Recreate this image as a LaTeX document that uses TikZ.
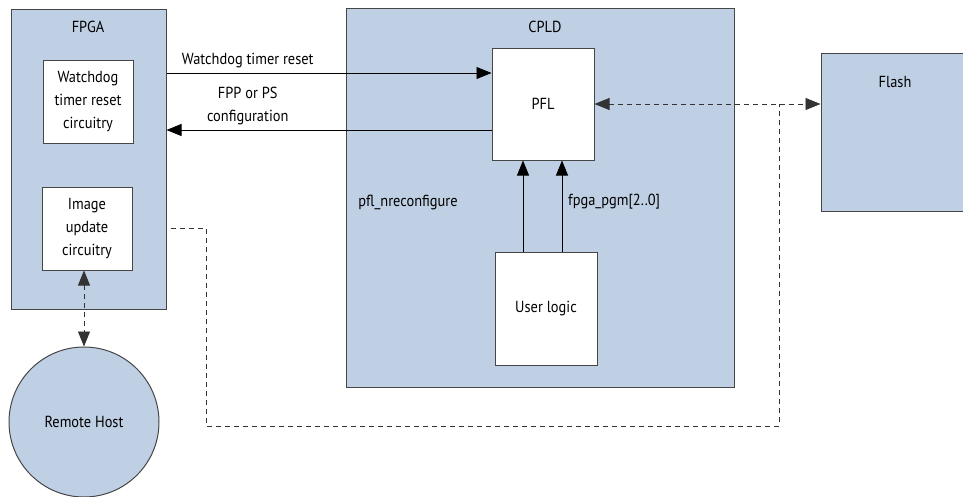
\documentclass[tikz,border=0pt]{standalone}
\usepackage{fontspec}
\setmainfont{PT Sans}[FakeStretch=0.9]
\usetikzlibrary{arrows.meta}
\definecolor{blockblue}{RGB}{191,207,228}
\definecolor{edgegray}{RGB}{70,70,70}

\begin{document}
\begin{tikzpicture}[x=1pt, y=-1pt, font=\fontsize{16}{23}\selectfont,
	bluebox/.style={shape=rectangle, draw=edgegray, fill=blockblue, line width=1pt, inner sep=0},
	whitebox/.style={shape=rectangle, draw=edgegray, fill=white, line width=1pt, inner sep=0, align=center},
	sig/.style={line width=0.9pt, -{Triangle[length=15pt, width=12pt]}},
	dsig/.style={line width=0.9pt, draw=black!80, dash pattern=on 5pt off 4pt}]
	\useasboundingbox (0, 0) rectangle (963, 496);
	% Blocks, labels and links:
	\node[bluebox, minimum width=155, minimum height=300] (FPGA) at (88.5, 159) {} node[anchor=center] (FPGAlbl) at (88, 27) {FPGA};
	\node[whitebox, minimum width=90, minimum height=83] (Watch) at (88, 101.5) {Watchdog\\timer reset\\circuitry};
	\node[whitebox, minimum width=90, minimum height=83] (Image) at (87, 228.5) {Image\\update\\circuitry};
	\node[bluebox, minimum width=388, minimum height=379] (CPLD) at (540, 197.5) {} node[anchor=center] (CPLDlbl) at (545, 27) {CPLD};
	\node[whitebox, minimum width=102, minimum height=112] (PFL) at (543, 104) {PFL};
	\node[whitebox, minimum width=102, minimum height=113] (User) at (546, 308.5) {User logic};
	\node[bluebox, minimum width=149, minimum height=158] (Flash) at (895.5, 132) {} node[anchor=center] (Flashlbl) at (895, 82) {Flash};
	\node[bluebox, shape=circle, minimum size=150] (Host) at (84, 422) {Remote Host};
	\draw[sig] (FPGA.east |- 0, 73) -- (PFL.west |- 0, 73) node[pos=0.25, anchor=south, yshift=1pt] (WDlbl) {Watchdog timer reset};
	\draw[sig] (PFL.west |- 0, 130) -- (FPGA.east |- 0, 130) node[pos=0.75, anchor=south, align=center, yshift=1pt] (CFGlbl) {FPP or PS\\configuration};
	\draw[sig] (User.north -| 523, 0) -- (PFL.south -| 523, 0);
	\draw[sig] (User.north -| 562, 0) -- (PFL.south -| 562, 0);
	\node[anchor=center] (NRlbl) at (408, 202) {pfl\_nreconfigure};
	\node[anchor=west, inner sep=0] (PGMlbl) at (568, 202) {fpga\_pgm[2..0]};
	\draw[dsig, {Triangle[length=15pt, width=12pt]}-{Triangle[length=15pt, width=12pt]}] (PFL.east) -- (Flash.west |- PFL.east);
	\draw[dsig, {Triangle[length=15pt, width=12pt]}-{Triangle[length=15pt, width=12pt]}] (Host.north |- Image.south) -- (Host.north);
	\coordinate (Join) at (779, 104);
	\draw[dsig] ([xshift=4pt]FPGA.east |- Image.east) -| (206, 426) -| (Join);
\end{tikzpicture}
\end{document}
